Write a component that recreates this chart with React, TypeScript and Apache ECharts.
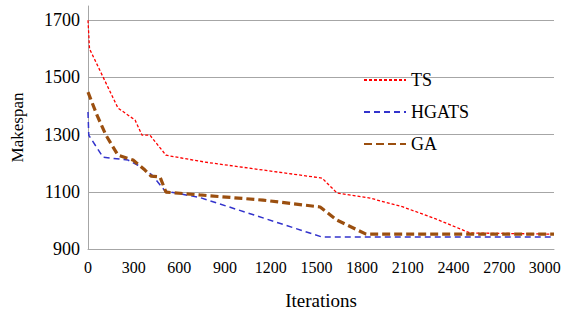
import React, { useEffect, useRef } from "react";
import * as echarts from "echarts";

const seriesNames = ["TS", "HGATS", "GA"];
const xTicks = [0, 300, 600, 900, 1200, 1500, 1800, 2100, 2400, 2700, 3000];
const yTicks = [900, 1100, 1300, 1500, 1700];

const tsData: [number, number][] = [
  [0, 1700], [10, 1600], [197, 1393], [309, 1351], [355, 1298], [407, 1298],
  [512, 1228], [768, 1204], [1537, 1148], [1635, 1096], [1852, 1078],
  [2069, 1047], [2285, 1005], [2509, 956], [3060, 952],
];
const hgatsData: [number, number][] = [
  [0, 1379], [5, 1298], [99, 1221], [263, 1211], [328, 1193], [420, 1159],
  [506, 1103], [735, 1080], [1537, 942], [3060, 942],
];
const gaData: [number, number][] = [
  [0, 1449], [59, 1368], [118, 1298], [197, 1228], [296, 1211], [374, 1176],
  [414, 1155], [473, 1152], [512, 1099], [735, 1089], [1149, 1071],
  [1524, 1047], [1635, 1001], [1826, 952], [3060, 952],
];

const FONT = "Liberation Serif";
const GRID = "#a6a6a6";

export default function App() {
  const ref = useRef<HTMLDivElement>(null);
  useEffect(() => {
    if (!ref.current) return;
    const chart = echarts.init(ref.current, undefined, { renderer: "svg" });
    chart.setOption({
      animation: false,
      backgroundColor: "#ffffff",
      textStyle: { fontFamily: FONT },
      grid: { left: 88, right: 15, top: 6, bottom: 67 },
      legend: {
        data: seriesNames,
        orient: "vertical",
        left: 358,
        top: 66,
        itemWidth: 42,
        itemHeight: 14,
        itemGap: 14,
        itemStyle: { opacity: 0 },
        textStyle: { fontFamily: FONT, fontSize: 18, color: "#000" },
      },
      xAxis: {
        type: "value",
        min: 0,
        max: 3060,
        interval: 300,
        name: "Iterations",
        nameLocation: "middle",
        nameGap: 42,
        nameTextStyle: { fontFamily: FONT, fontSize: 19, color: "#000" },
        axisLine: { show: true, lineStyle: { color: GRID, width: 1 } },
        axisTick: { show: false },
        splitLine: { show: false },
        axisLabel: {
          showMaxLabel: false,
          margin: 10,
          fontFamily: FONT,
          fontSize: 16,
          color: "#000",
          formatter: (v: number) => (xTicks.includes(v) ? String(v) : ""),
        },
      },
      yAxis: {
        type: "value",
        min: 900,
        max: 1750,
        interval: 200,
        name: "Makespan",
        nameLocation: "middle",
        nameGap: 62,
        nameTextStyle: { fontFamily: FONT, fontSize: 17, color: "#000" },
        axisLine: { show: true, lineStyle: { color: GRID, width: 1 } },
        axisTick: { show: false },
        splitLine: {
          show: true,
          showMinLine: false,
          showMaxLine: false,
          lineStyle: { color: GRID, width: 1 },
        },
        axisLabel: {
          showMaxLabel: false,
          margin: 8,
          fontFamily: FONT,
          fontSize: 18,
          color: "#000",
          formatter: (v: number) => (yTicks.includes(v) ? String(v) : ""),
        },
      },
      series: [
        {
          name: "HGATS",
          type: "line",
          data: hgatsData,
          symbol: "none",
          lineStyle: { color: "#3333cc", width: 1.5, type: [6, 4] },
          itemStyle: { color: "#3333cc" },
        },
        {
          name: "TS",
          type: "line",
          data: tsData,
          symbol: "none",
          lineStyle: { color: "#ff0000", width: 1.3, type: [3, 2] },
          itemStyle: { color: "#ff0000" },
        },
        {
          name: "GA",
          type: "line",
          data: gaData,
          symbol: "none",
          lineStyle: { color: "#9b4f0f", width: 3.2, type: [8, 4] },
          itemStyle: { color: "#9b4f0f" },
        },
      ],
    });
    return () => chart.dispose();
  }, []);
  return (
    <div
      ref={ref}
      style={{ position: "fixed", left: 0, top: 0, width: 569, height: 316 }}
    />
  );
}
